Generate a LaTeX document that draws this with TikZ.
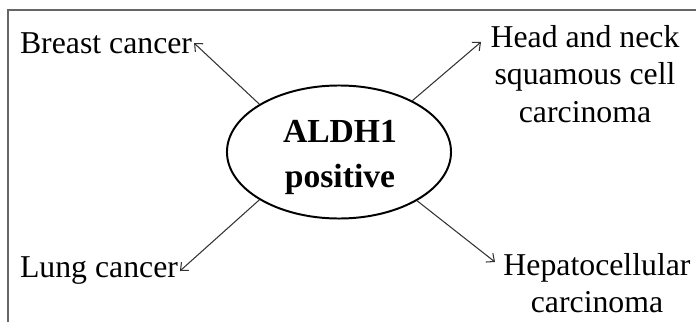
\documentclass[tikz,border=0pt]{standalone}
\usepackage{fontspec}
\setmainfont{Liberation Serif}
\usepackage{tikz}
\usetikzlibrary{shapes}
\usetikzlibrary{arrows.meta}
\usetikzlibrary{positioning}
\usepackage{xcolor}
\definecolor{tikz-line}{HTML}{333333}
\definecolor{tikz-frame}{HTML}{666666}
\tikzset{every text node part/.style={align=center, font={\fontsize{22.6}{26.6}\selectfont}}}
\tikzstyle{site} = [inner sep=0.05cm, outer sep=0cm]
\tikzstyle{marker} = [ellipse, draw=black, line width=1.4pt, minimum width=5.6cm, minimum height=3.325cm, inner sep=0cm]
\tikzstyle{bold} = [every text node part/.style={align=center, font={\fontsize{23.9}{32}\selectfont\bfseries}}]
\tikzstyle{ln} = [draw=tikz-line, line width=0.75pt, arrows={-Straight Barb[length=4.5pt, width=8pt]}]
\tikzstyle{frame} = [draw=tikz-frame, line width=0.8pt]

\begin{document}
\begin{tikzpicture}[x=0.025cm, y=-0.025cm]
      \useasboundingbox (0,0) rectangle (696,322);
      \draw[frame] (696,10) -- (8,10) -- (8,322);
      \node[marker] (ald) at (339,152) {};
      \node[bold] (aldtext) at (340,157) {ALDH1\\positive};
      \node[site, anchor=west] (breast) at (18,43) {Breast cancer};
      \node[site, anchor=west] (lung) at (18,271) {Lung cancer};
      \node[site] (head) at (585,74) {Head and neck\\squamous cell\\carcinoma};
      \node[site] (hep) at (597,283) {Hepatocellular\\carcinoma};
      \coordinate (headtip) at (481,42);
      \coordinate (heptip) at (495,262);
      \draw[ln] (ald.149) -- (breast.east);
      \draw[ln] (ald.35) -- (headtip);
      \draw[ln] (ald.211) -- (lung.east);
      \draw[ln] (ald.328) -- (heptip);
    \end{tikzpicture}
\end{document}
